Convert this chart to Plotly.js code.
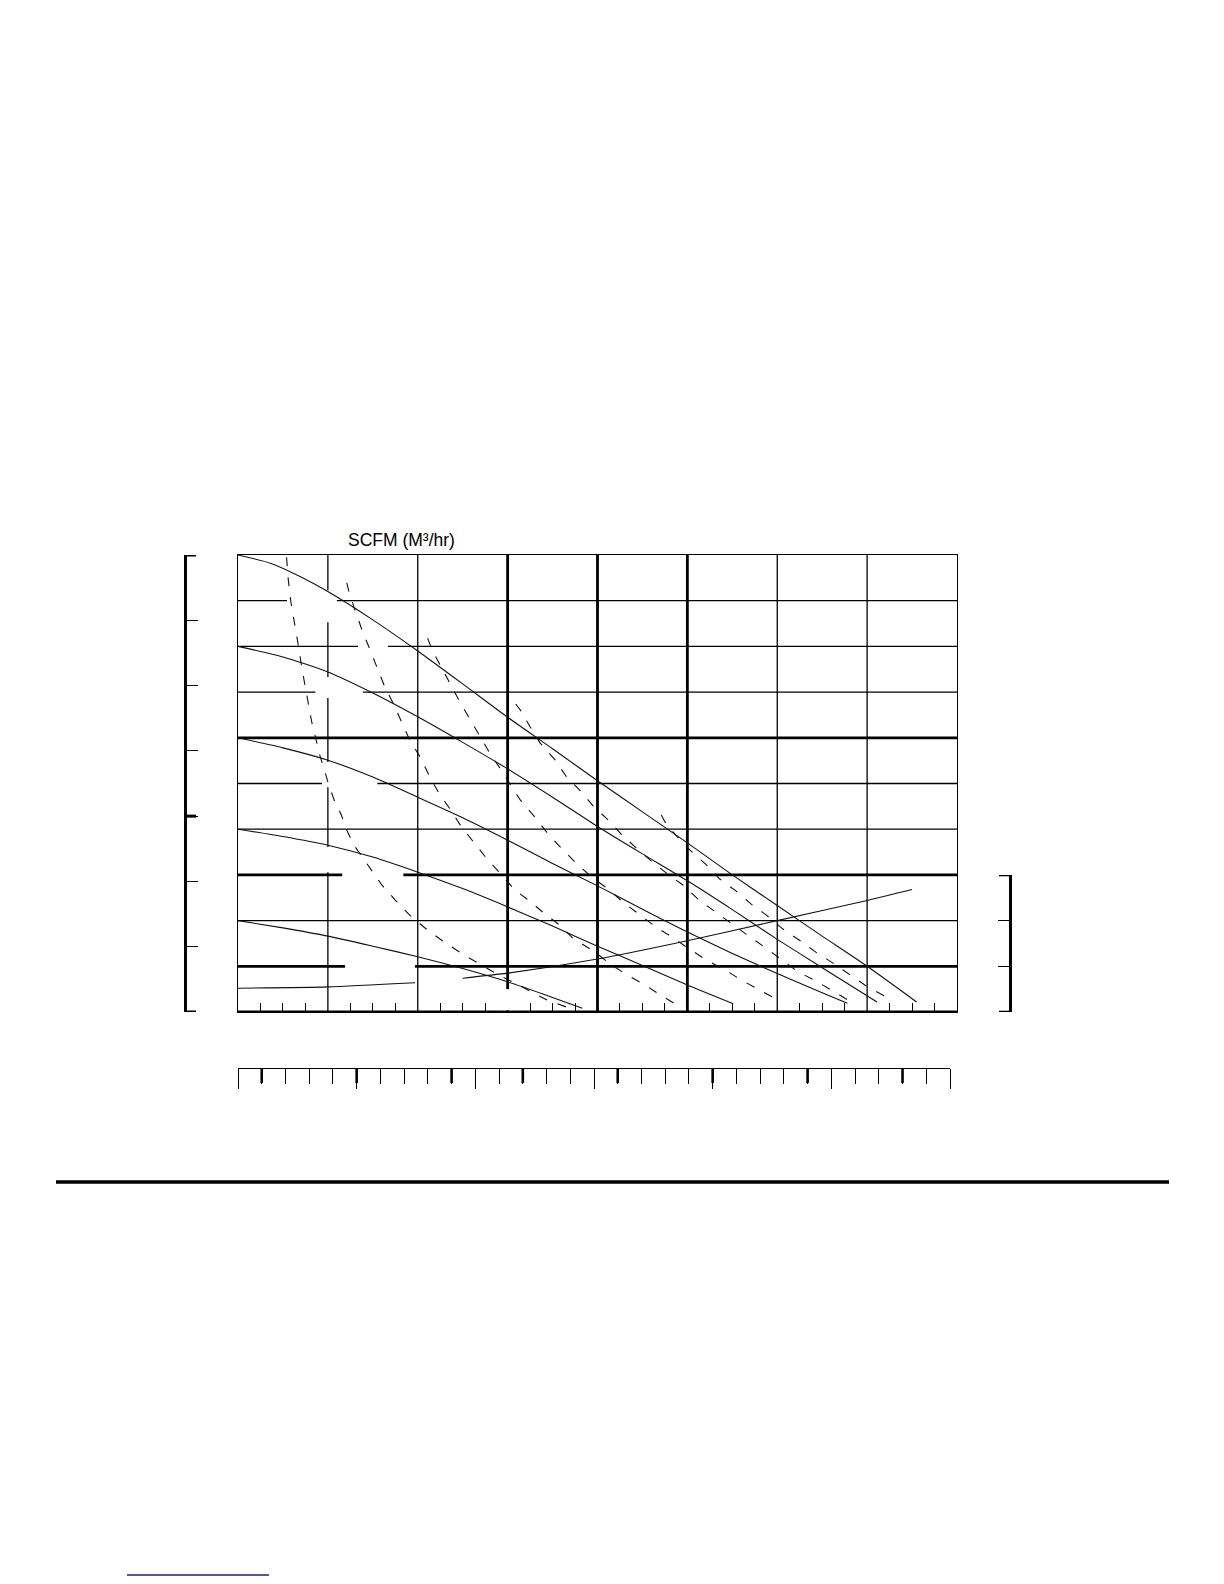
<!DOCTYPE html>
<html>
<head>
<meta charset="utf-8">
<script src="https://cdn.plot.ly/plotly-3.0.1.min.js"></script>
<style>
body { margin: 0; background: #fff; }
#chart { width: 1224px; height: 1584px; }
</style>
</head>
<body>
<div id="chart"></div>
<script>
// performance curves: flow (GPM, top grid 0-80) vs discharge pressure (PSI, 0-100)
var flow100 = [0, 3.6, 6.9, 10, 15, 20, 25, 30, 35, 40, 45, 50, 55, 60, 65, 70, 75.5];
var head100 = [100, 98.2, 95.3, 92.0, 85.8, 79.0, 71.8, 64.5, 57.6, 50.6, 43.8, 37.0, 30.0, 23.3, 16.6, 10.0, 2.2];

var flow80 = [0, 5, 10, 15, 20, 25, 30, 35, 40, 45, 50, 55, 60, 65, 71.1];
var head80 = [80, 77.7, 74.4, 69.8, 64.6, 59.0, 53.2, 47.0, 40.6, 34.6, 28.7, 22.4, 15.9, 9.7, 2.2];

var flow60 = [0, 5, 10, 15, 20, 25, 30, 35, 40, 45, 50, 55, 60, 65, 67.8];
var head60 = [60, 57.8, 55.1, 51.4, 47.0, 42.5, 37.6, 32.5, 27.6, 22.5, 17.5, 12.8, 8.4, 4.2, 1.9];

var flow40 = [0, 5, 10, 15, 20, 25, 30, 35, 40, 45, 50, 55.1];
var head40 = [40, 38.4, 36.5, 33.9, 30.6, 27.0, 23.0, 18.8, 14.4, 10.2, 5.9, 1.8];

var flow20 = [0, 5, 10, 15, 20, 25, 30, 34, 38.3];
var head20 = [20, 18.4, 16.6, 14.4, 12.1, 9.5, 6.6, 3.9, 0.8];

// rising curve, a piece of it sits under a blanked label
var flowRise = [0, 10, 19.7, null, 25, 30, 40, 50, 60, 70, 75];
var valRise = [5.2, 5.5, 6.4, null, 7.4, 8.5, 11.6, 15.6, 20.0, 24.4, 26.8];

// air consumption lines (dashed)
var flowAirA = [5.4, 5.6, 5.9, 6.5, 6.8, 7.1, 7.5, 7.9, 8.2, 8.7, 9.1, 9.6, 10.1, 10.7, 11.5, 12.1, 12.9, 13.9, 14.9, 16.0, 17.5, 19.1, 21.1, 23.1, 25.3, 27.2, 29.2, 31.2, 34.4, 37.5];
var headAirA = [99.5, 94.5, 89.5, 83.2, 79.2, 75.3, 71.1, 66.7, 63.5, 59.5, 56.2, 53.0, 49.7, 46.4, 43.1, 39.8, 36.5, 33.7, 30.9, 27.8, 24.5, 21.2, 17.9, 15.1, 12.3, 10.1, 7.9, 5.9, 2.6, 0.4];

var flowAirB = [12.1, 12.3, 13.0, 13.8, 14.7, 15.4, 16.3, 17.3, 18.2, 19.1, 20.3, 21.3, 22.4, 23.6, 24.8, 26.3, 27.7, 29.2, 30.8, 32.5, 34.0, 35.8, 37.4, 39.6, 41.2, 43.2, 45.2, 47.1, 49.4];
var headAirB = [93.9, 92.3, 88.0, 83.6, 79.2, 75.9, 71.3, 67.4, 63.3, 59.5, 55.7, 51.6, 47.7, 44.4, 40.7, 37.1, 33.5, 30.3, 26.7, 24.2, 21.7, 19.0, 15.9, 13.3, 10.8, 8.2, 6.0, 3.6, 0.9];

var flowAirC = [21.1, 21.6, 22.5, 23.6, 24.7, 25.8, 26.9, 28.0, 29.2, 30.3, 31.4, 33.1, 34.6, 36.2, 37.8, 39.5, 41.2, 42.8, 44.6, 46.5, 48.3, 50.2, 52.1, 54.2, 56.0, 58.1, 60.5];
var headAirC = [81.8, 79.2, 75.9, 71.8, 67.8, 64.1, 60.4, 56.7, 53.2, 49.9, 46.4, 42.5, 38.7, 35.4, 32.2, 29.3, 26.9, 24.1, 21.4, 18.6, 16.4, 13.8, 11.4, 9.2, 7.0, 4.8, 2.2];

var flowAirD = [30.9, 31.4, 32.5, 33.6, 35.3, 36.5, 38.1, 39.5, 41.2, 42.6, 44.3, 46.0, 47.8, 49.5, 51.3, 53.1, 54.9, 56.7, 58.6, 60.4, 62.3, 64.3, 66.2, 68.4];
var headAirD = [67.4, 66.1, 62.4, 58.9, 55.1, 51.6, 48.4, 45.1, 42.0, 39.0, 35.9, 33.0, 30.2, 27.8, 24.5, 21.9, 19.3, 16.8, 14.2, 11.6, 8.8, 6.8, 4.6, 2.0];

var flowAirE = [47.1, 47.5, 48.7, 50.3, 52.0, 53.6, 55.4, 57.1, 58.8, 60.6, 62.4, 64.3, 66.2, 68.1, 69.9, 72.3];
var headAirE = [43.1, 41.6, 38.7, 35.4, 32.4, 29.1, 26.5, 23.6, 21.2, 18.2, 15.8, 13.1, 10.7, 8.1, 5.7, 3.1];

// secondary scales (labels were blank in the source)
var barRange = [0, 7];
var barHeavy = [0, 3, 7];
var rightRange = [0, 3];
var rightEnds = [0, 3];
var lpmRange = [0, 300];
var lpmHeavy = [10, 50, 90, 120, 160, 200, 240, 280];

// grid: every line, then the heavier ones
var flowGrid = [10, 20, 30, 40, 50, 60, 70];
var headGrid = [10, 20, 30, 40, 50, 60, 70, 80, 90];
var heavyFlow = [30, 40, 50];
var heavyHead = [0, 10, 30, 60];

// page box of the plot frame, in pixels
var boxL = 185, boxR = 1010, boxT = 555, boxB = 1088;
function px(x) { return (x - boxL) / (boxR - boxL); }
function py(y) { return (boxB - y) / (boxB - boxT); }

var solid = {color: '#111', width: 1.1, shape: 'spline', smoothing: 0.6};
var dashed = {color: '#111', width: 1.1, dash: '9px,11px'};

function curve(x, y, line) {
    return {type: 'scatter', mode: 'lines', x: x, y: y, line: line,
        hoverinfo: 'skip', showlegend: false, connectgaps: false};
}

var data = [
    curve(flow100, head100, solid),
    curve(flow80, head80, solid),
    curve(flow60, head60, solid),
    curve(flow40, head40, solid),
    curve(flow20, head20, solid),
    curve(flowRise, valRise, solid),
    curve(flowAirA, headAirA, dashed),
    curve(flowAirB, headAirB, dashed),
    curve(flowAirC, headAirC, dashed),
    curve(flowAirD, headAirD, dashed),
    curve(flowAirE, headAirE, dashed),
    // empty traces so the extra scales get drawn
    {type: 'scatter', x: [null], y: [null], yaxis: 'y2', hoverinfo: 'skip', showlegend: false},
    {type: 'scatter', x: [null], y: [null], yaxis: 'y3', hoverinfo: 'skip', showlegend: false},
    {type: 'scatter', x: [null], y: [null], xaxis: 'x2', hoverinfo: 'skip', showlegend: false}
];

// white boxes where labels were blanked out of the grid
var labelGaps = [
    [5.45, 11.0, 85.3, 92.3],
    [13.35, 16.7, 79.0, 81.2],
    [8.6, 13.9, 68.7, 73.3],
    [9.35, 15.5, 49.2, 54.7],
    [9.5, 10.5, 30.6, 36.1],
    [11.6, 18.4, 28.0, 31.9],
    [11.9, 19.7, 8.1, 11.8],
    [29.5, 30.6, 0.4, 5.0]
];

function gridLine(dir, v, w) {
    var s = {type: 'line', xref: 'x', yref: 'y', layer: 'between', line: {color: '#000', width: w}};
    if (dir === 'v') { s.x0 = v; s.x1 = v; s.y0 = 0; s.y1 = 100; }
    else { s.x0 = 0; s.x1 = 80; s.y0 = v; s.y1 = v; }
    return s;
}

var shapes = [];
flowGrid.forEach(function (v) { shapes.push(gridLine('v', v, 1.3)); });
headGrid.forEach(function (v) { shapes.push(gridLine('h', v, 1.3)); });
heavyFlow.forEach(function (v) { shapes.push(gridLine('v', v, 2.8)); });
heavyHead.forEach(function (v) { shapes.push(gridLine('h', v, v === 0 ? 3.2 : 2.8)); });
labelGaps.forEach(function (g) {
    shapes.push({type: 'rect', xref: 'x', yref: 'y', x0: g[0], x1: g[1], y0: g[2], y1: g[3],
        layer: 'between', fillcolor: '#fff', line: {width: 0}});
});
barHeavy.forEach(function (v) {
    shapes.push({type: 'line', xref: 'paper', yref: 'y2', x0: px(184), x1: px(196), y0: v, y1: v,
        line: {color: '#000', width: 3}});
});
rightEnds.forEach(function (v) {
    shapes.push({type: 'line', xref: 'paper', yref: 'y3', x0: px(999), x1: px(1011), y0: v, y1: v,
        line: {color: '#000', width: 2.6}});
});
lpmHeavy.forEach(function (v) {
    shapes.push({type: 'line', xref: 'x2', yref: 'paper', x0: v, x1: v, y0: py(1068), y1: py(1083),
        line: {color: '#000', width: 2.6}});
});
// page rule and the underline near the foot of the page
shapes.push({type: 'line', xref: 'paper', yref: 'paper', x0: px(56), x1: px(1169), y0: py(1182), y1: py(1182),
    line: {color: '#000', width: 3.3}});
shapes.push({type: 'line', xref: 'paper', yref: 'paper', x0: px(127), x1: px(269), y0: py(1575), y1: py(1575),
    line: {color: '#1c1c8f', width: 1.4}});

var layout = {
    width: 1224,
    height: 1584,
    margin: {l: boxL, r: 1224 - boxR, t: boxT, b: 1584 - boxB, pad: 0},
    paper_bgcolor: '#fff',
    plot_bgcolor: 'rgba(0,0,0,0)',
    showlegend: false,
    font: {family: 'Liberation Sans, Arial, sans-serif', color: '#000'},
    xaxis: {
        domain: [px(238), px(957)], range: [0, 80], anchor: 'y',
        dtick: 10, ticks: '', showticklabels: false, showgrid: false,
        minor: {dtick: 2.5, ticks: 'inside', ticklen: 9, tickwidth: 1, tickcolor: '#000', showgrid: false},
        showline: true, mirror: true, linecolor: '#000', linewidth: 1, zeroline: false
    },
    yaxis: {
        domain: [py(1012), 1], range: [0, 100], anchor: 'x',
        dtick: 10, ticks: '', showticklabels: false, showgrid: false,
        showline: true, mirror: true, linecolor: '#000', linewidth: 1, zeroline: false
    },
    yaxis2: {
        overlaying: 'y', anchor: 'free', position: 0, side: 'left',
        range: barRange, dtick: 1, ticks: 'inside', ticklen: 11, tickwidth: 1, tickcolor: '#000',
        showline: true, linewidth: 3, linecolor: '#000',
        showgrid: false, zeroline: false, showticklabels: false
    },
    yaxis3: {
        domain: [py(1012), py(875)], anchor: 'free', position: 1, side: 'right',
        range: rightRange, dtick: 1, ticks: 'inside', ticklen: 11, tickwidth: 1, tickcolor: '#000',
        showline: true, linewidth: 3, linecolor: '#000',
        showgrid: false, zeroline: false, showticklabels: false
    },
    xaxis2: {
        domain: [px(238), px(950)], anchor: 'free', position: py(1068), side: 'bottom',
        range: lpmRange, dtick: 50, ticks: 'outside', ticklen: 20, tickwidth: 1, tickcolor: '#000',
        minor: {dtick: 10, ticks: 'outside', ticklen: 15, tickwidth: 1, tickcolor: '#000', showgrid: false},
        showline: true, linewidth: 1, linecolor: '#000',
        showgrid: false, zeroline: false, showticklabels: false
    },
    annotations: [{
        xref: 'paper', yref: 'paper', x: px(401.5), y: py(540),
        xanchor: 'center', yanchor: 'middle', showarrow: false,
        text: 'SCFM (M³/hr)',
        font: {size: 17.5, family: 'Liberation Sans, Arial, sans-serif', color: '#000'}
    }],
    shapes: shapes
};

Plotly.newPlot('chart', data, layout, {displayModeBar: false});
</script>
</body>
</html>
